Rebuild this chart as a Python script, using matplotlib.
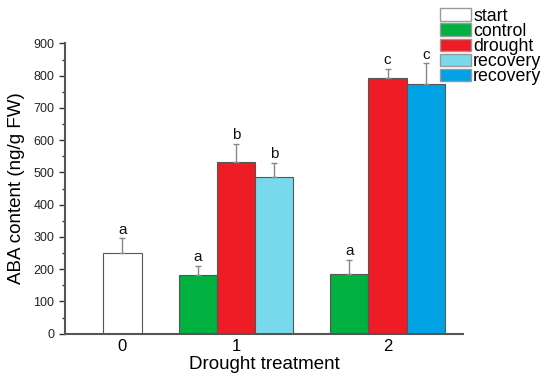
import matplotlib.pyplot as plt
from matplotlib.patches import Patch
from matplotlib.ticker import MultipleLocator

plt.rcParams['font.family'] = ['Liberation Sans', 'DejaVu Sans']

# data
groups = ["0", "1", "2"]
group_pos = [0.0, 1.0, 2.335]
series = ["start", "control", "drought", "recovery", "recovery"]
colors = ["#ffffff", "#00b140", "#ee1c25", "#77d9eb", "#00a2e6"]

# one entry per bar
bar_group = [0, 1, 1, 1, 2, 2, 2]
bar_series = [0, 1, 2, 3, 1, 2, 4]
bar_slot = [0, -1, 0, 1, -1, 0, 1]
bar_vals = [249, 182, 532, 486, 184, 793, 774]
bar_errs = [47, 29, 57, 44, 46, 29, 64]
bar_letters = ["a", "a", "b", "b", "a", "c", "c"]

width = 0.3375

fig = plt.figure(figsize=(5.5, 3.79), dpi=100)
ax = fig.add_axes([0.118, 0.1195, 0.724, 0.766])

for g, s, k, v, e, t in zip(bar_group, bar_series, bar_slot, bar_vals, bar_errs, bar_letters):
    x = group_pos[g] + k * width
    ax.bar(x, v, width=width, color=colors[s], edgecolor="#555555", linewidth=0.8, zorder=2)
    ax.errorbar(x, v, yerr=[[0], [e]], fmt="none", ecolor="#888888", elinewidth=1.0,
                capsize=2.5, capthick=1.0, zorder=3)
    ax.text(x, v + e + 4, t, ha="center", va="bottom", fontsize=11, color="#111111")

ax.set_xlim(-0.507, 3.0)
ax.set_ylim(0, 900)
ax.set_xticks(group_pos)
ax.set_xticklabels(groups, fontsize=12)
ax.tick_params(axis="x", length=0, pad=4)
ax.yaxis.set_major_locator(MultipleLocator(100))
ax.yaxis.set_minor_locator(MultipleLocator(50))
ax.tick_params(axis="y", which="major", length=4, width=1, labelsize=9, colors="#333333", labelcolor="#222222")
ax.tick_params(axis="y", which="minor", length=2.5, width=1, colors="#333333")
for side in ["top", "right"]:
    ax.spines[side].set_visible(False)
for side in ["left", "bottom"]:
    ax.spines[side].set_linewidth(1.5)
    ax.spines[side].set_color("#555555")

ax.set_ylabel("ABA content (ng/g FW)", fontsize=13.5, labelpad=6)
ax.set_xlabel("Drought treatment", fontsize=13.5, labelpad=1)

handles = [Patch(facecolor=c, edgecolor="#999999", linewidth=1.0) for c in colors]
fig.legend(handles, series, loc="upper left", bbox_to_anchor=(0.8, 0.98), frameon=False,
           fontsize=12.8, labelspacing=-0.1, handlelength=1.75, handleheight=0.7,
           handletextpad=0.12, borderpad=0, borderaxespad=0)

fig.savefig("out.png", dpi=100)
